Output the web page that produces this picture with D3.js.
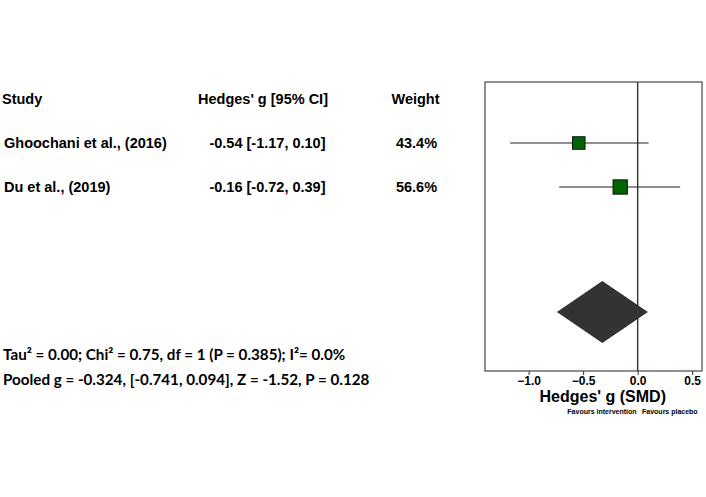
<!DOCTYPE html>
<html>
<head>
<meta charset="utf-8">
<script src="https://cdn.jsdelivr.net/npm/d3@7/dist/d3.min.js"></script>
<style>
  html, body { margin: 0; padding: 0; background: #fff; }
  svg { display: block; }
  text { font-family: "Liberation Sans", Arial, sans-serif; fill: #000; }
</style>
</head>
<body>
<svg id="chart" width="706" height="497"></svg>
<script>
// ---- data ----
const studies = ["Ghoochani et al., (2016)", "Du et al., (2019)"];
const effects = [-0.54, -0.16];
const lowers = [-1.17, -0.72];
const uppers = [0.10, 0.39];
const weights = [43.4, 56.6];
const ciLabels = ["-0.54 [-1.17, 0.10]", "-0.16 [-0.72, 0.39]"];
const weightLabels = ["43.4%", "56.6%"];
const pooled = [-0.324, -0.741, 0.094]; // estimate, lower, upper
const xTicks = [-1.0, -0.5, 0.0, 0.5];
const headers = ["Study", "Hedges' g [95% CI]", "Weight"];
const statLine1 = "Tau\u00B2 = 0.00; Chi\u00B2 = 0.75, df = 1 (P = 0.385); I\u00B2= 0.0%";
const statLine2 = "Pooled g = -0.324, [-0.741, 0.094], Z = -1.52, P = 0.128";
const xTitle = "Hedges' g (SMD)";
const favLeft = "Favours intervention";
const favRight = "Favours placebo";

// ---- layout ----
const svg = d3.select("#chart");
const box = { left: 485, right: 702, top: 82, bottom: 371 };
const x = d3.scaleLinear().domain([-1.4, 0.59]).range([box.left, box.right]);
const rowY = d3.scaleLinear().domain([0, 1]).range([143, 187]);
const headerY = rowY(-1);
const pooledY = rowY(3.84);
const sizeScale = d3.scaleSqrt().domain([0, 56.6]).range([0, 14.3]);

// panel box
svg.append("rect")
  .attr("x", box.left).attr("y", box.top)
  .attr("width", box.right - box.left).attr("height", box.bottom - box.top)
  .attr("fill", "none").attr("stroke", "#555").attr("stroke-width", 1.3);

// zero line
svg.append("line")
  .attr("x1", x(0)).attr("x2", x(0))
  .attr("y1", box.top).attr("y2", box.bottom)
  .attr("stroke", "#333").attr("stroke-width", 1.4);

// CI lines
svg.selectAll(".ci").data(studies).enter().append("line")
  .attr("x1", (d, i) => x(lowers[i])).attr("x2", (d, i) => x(uppers[i]))
  .attr("y1", (d, i) => rowY(i)).attr("y2", (d, i) => rowY(i))
  .attr("stroke", "#222").attr("stroke-width", 1.2);

// squares
svg.selectAll(".sq").data(studies).enter().append("rect")
  .attr("x", (d, i) => x(effects[i]) - sizeScale(weights[i]) / 2)
  .attr("y", (d, i) => rowY(i) - sizeScale(weights[i]) / 2)
  .attr("width", (d, i) => sizeScale(weights[i]))
  .attr("height", (d, i) => sizeScale(weights[i]))
  .attr("fill", "#006400").attr("stroke", "#111").attr("stroke-width", 1);

// diamond
const dh = 31;
svg.append("path")
  .attr("d", `M${x(pooled[1])},${pooledY} L${x(pooled[0])},${pooledY - dh} L${x(pooled[2])},${pooledY} L${x(pooled[0])},${pooledY + dh} Z`)
  .attr("fill", "#333333");

// axis
const axis = d3.axisBottom(x).tickValues(xTicks).tickFormat(d3.format(".1f")).tickSize(4).tickPadding(1);
const ax = svg.append("g").attr("transform", `translate(0,${box.bottom})`).call(axis);
ax.select(".domain").remove();
ax.selectAll("line").attr("stroke", "#333");
ax.selectAll("text").attr("font-size", 12).attr("font-weight", "bold").attr("fill", "#111")
  .style("font-family", "'Liberation Sans', Arial, sans-serif");

svg.append("text").attr("x", x(-0.32)).attr("y", 402)
  .attr("text-anchor", "middle").attr("font-size", 16).attr("font-weight", "bold").text(xTitle);
svg.append("text").attr("x", x(-0.01)).attr("y", 414)
  .attr("text-anchor", "end").attr("font-size", 7).attr("font-weight", "bold").attr("fill", "#222").text(favLeft);
svg.append("text").attr("x", x(0.04)).attr("y", 414)
  .attr("text-anchor", "start").attr("font-size", 7).attr("font-weight", "bold").attr("fill", "#222").text(favRight);

// table headers
const colX = [2, 263, 415.5];
const colAnchor = ["start", "middle", "middle"];
headers.forEach((h, j) => {
  svg.append("text").attr("x", colX[j]).attr("y", headerY).attr("dy", "0.35em")
    .attr("text-anchor", colAnchor[j]).attr("font-size", 14.5).attr("font-weight", "bold").text(h);
});

// table rows
studies.forEach((s, i) => {
  svg.append("text").attr("x", 4).attr("y", rowY(i)).attr("dy", "0.35em")
    .attr("font-size", 14.5).attr("font-weight", "bold").text(s);
  svg.append("text").attr("x", 267.5).attr("y", rowY(i)).attr("dy", "0.35em")
    .attr("text-anchor", "middle").attr("font-size", 14.5).attr("font-weight", "bold").text(ciLabels[i]);
  svg.append("text").attr("x", 416.5).attr("y", rowY(i)).attr("dy", "0.35em")
    .attr("text-anchor", "middle").attr("font-size", 14.5).attr("font-weight", "bold").text(weightLabels[i]);
});

// stats
svg.append("text").attr("x", 3).attr("y", 355).attr("dy", "0.35em")
  .style("font-family", "Lato, 'Open Sans', sans-serif")
  .attr("font-size", 15.2).attr("font-weight", "bold").text(statLine1);
svg.append("text").attr("x", 3).attr("y", 380).attr("dy", "0.35em")
  .style("font-family", "Lato, 'Open Sans', sans-serif")
  .attr("font-size", 15.2).attr("font-weight", "bold").text(statLine2);
</script>
</body>
</html>
